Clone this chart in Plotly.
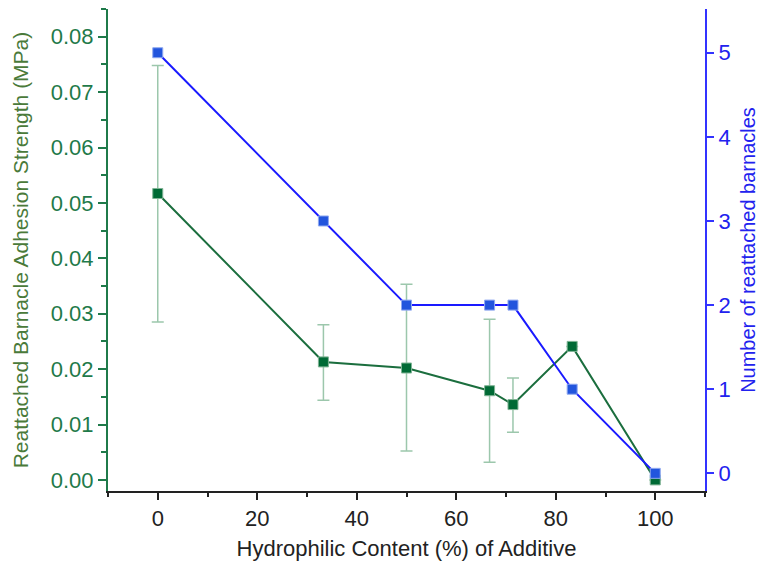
import plotly.graph_objects as go

hydrophilic = [0, 33.3, 50, 66.7, 71.4, 83.3, 100]
strength = [0.0517, 0.0213, 0.0202, 0.0161, 0.0136, 0.0241, 0.0]
err_plus = [0.0231, 0.0067, 0.0151, 0.0129, 0.0048, 0.0, 0.0]
err_minus = [0.0232, 0.0069, 0.0150, 0.0129, 0.0050, 0.0, 0.0]
barnacles = [5, 3, 2, 2, 2, 1, 0]

GREEN = "#006a35"
GREEN_AX = "#1f7a4a"
BLUE = "#2255dd"
BLUE_LINE = "#1a1aff"
FONT = "Liberation Sans, Arial, sans-serif"

fig = go.Figure()
fig.add_trace(go.Scatter(
    x=hydrophilic, y=strength, mode="lines+markers",
    line=dict(color="#1b6e3e", width=2),
    marker=dict(symbol="square", size=10, color=GREEN, line=dict(color="#7fb394", width=1)),
    error_y=dict(type="data", symmetric=False, array=err_plus, arrayminus=err_minus,
                 color="#9cc7ac", thickness=1.5, width=6),
    yaxis="y", showlegend=False))
fig.add_trace(go.Scatter(
    x=hydrophilic, y=barnacles, mode="lines+markers",
    line=dict(color=BLUE_LINE, width=2),
    marker=dict(symbol="square", size=10, color=BLUE, line=dict(color="#8fa8f0", width=1)),
    yaxis="y2", showlegend=False))

fig.update_layout(
    width=759, height=564,
    margin=dict(l=108, r=54, t=9, b=73),
    plot_bgcolor="white", paper_bgcolor="white",
    font=dict(family=FONT),
    xaxis=dict(
        automargin=False,
        range=[-10, 110], tickvals=[0, 20, 40, 60, 80, 100],
        ticks="outside", ticklen=7, tickwidth=1.5, tickcolor="#222",
        minor=dict(ticks="outside", ticklen=4, tickwidth=1.5, tickcolor="#222", tickvals=[-10, 10, 30, 50, 70, 90, 110]),
        showline=True, linecolor="#222", linewidth=2, showgrid=False, zeroline=False,
        tickfont=dict(size=22, color="#222"),
        title=dict(text="Hydrophilic Content (%) of Additive", font=dict(size=22, color="#222"), standoff=10),
    ),
    yaxis=dict(
        automargin=False,
        range=[-0.002, 0.085], tickvals=[0, 0.01, 0.02, 0.03, 0.04, 0.05, 0.06, 0.07, 0.08],
        tickformat=".2f",
        ticks="outside", ticklen=8, tickwidth=1.5, tickcolor=GREEN_AX,
        minor=dict(ticks="outside", ticklen=5, tickwidth=1.5, tickcolor=GREEN_AX, dtick=0.005, tick0=0),
        showline=True, linecolor=GREEN_AX, linewidth=2, showgrid=False, zeroline=False,
        tickfont=dict(size=22, color=GREEN_AX),
        title=dict(text="Reattached Barnacle Adhesion Strength (MPa)", font=dict(size=21, color="#4a7a3a"), standoff=16),
    ),
    yaxis2=dict(
        automargin=False,
        overlaying="y", side="right", anchor="x",
        range=[-0.21, 5.52], tickvals=[0, 1, 2, 3, 4, 5],
        ticks="outside", ticklen=7, tickwidth=1.5, tickcolor="#3333ff",
        showline=True, linecolor="#3333ff", linewidth=2, showgrid=False, zeroline=False,
        tickfont=dict(size=22, color="#2222ee"),
        title=dict(text="Number of reattached barnacles", font=dict(size=20, color="#2222ee"), standoff=11),
    ),
)

fig.write_html("out.html")
